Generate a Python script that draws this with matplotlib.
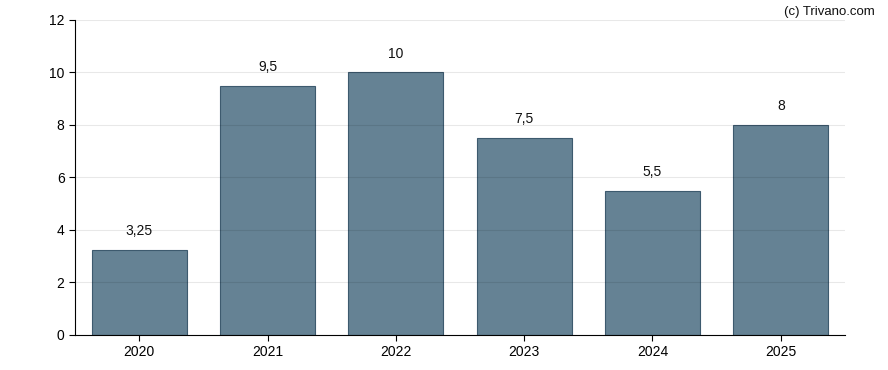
import matplotlib.pyplot as plt
import numpy as np

years = ["2020", "2021", "2022", "2023", "2024", "2025"]
values = [3.25, 9.5, 10, 7.5, 5.5, 8]
labels = ["3,25", "9,5", "10", "7,5", "5,5", "8"]

plt.rcParams['font.family'] = ['Liberation Sans', 'DejaVu Sans']

fig = plt.figure(figsize=(8.88, 3.7), dpi=100)
ax = fig.add_axes([0.0845, 0.0946, 0.867, 0.8514])

x = np.arange(len(years))
ax.bar(x, values, width=0.74, color='#658294', edgecolor='#3d5a6e', linewidth=0.8, zorder=2)
for xi, v, lab in zip(x, values, labels):
    ax.text(xi, v + 0.45, lab, ha='center', va='bottom', fontsize=10, color='#111111')

ax.set_xlim(-0.5, 5.5)
ax.set_ylim(0, 12)
ax.set_yticks(range(0, 13, 2))
ax.set_xticks(x)
ax.set_xticklabels(years)
ax.tick_params(labelsize=10, length=4, colors='#000000')
ax.grid(axis='y', color='#000000', alpha=0.09, linewidth=0.8, zorder=3)
ax.set_axisbelow(False)
for s in ['top', 'right']:
    ax.spines[s].set_visible(False)

fig.text(0.985, 0.985, "(c) Trivano.com", ha='right', va='top', fontsize=9.5, color='#111111')

fig.savefig("out.png", dpi=100)
